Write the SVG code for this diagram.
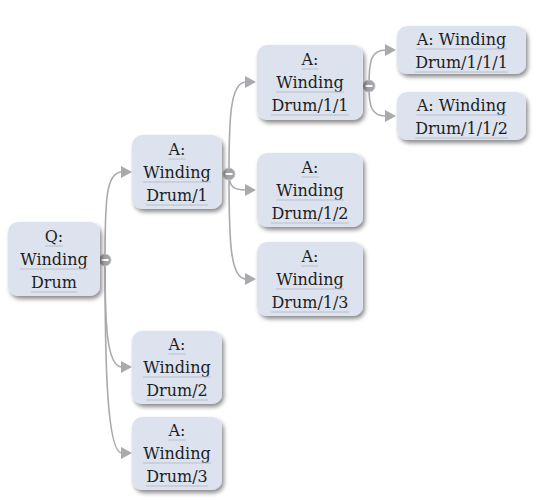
<svg xmlns="http://www.w3.org/2000/svg" width="551" height="500" viewBox="0 0 551 500">
<style>
.box{fill:#dde3ee;filter:url(#sh)}
.t{font-family:"DejaVu Serif","Liberation Serif",serif;font-size:16px;fill:#1e1e1e;text-anchor:middle}
.ul{stroke:#b7bfcc;stroke-width:1}
.c{fill:none;stroke:#a9a9ae;stroke-width:1.6}
.ah{fill:#a9a9ae}
.tg{fill:#a3a3a8;stroke:#c4c4c8;stroke-width:1}
.mn{stroke:#fff;stroke-width:2}
</style>
<defs>
<filter id="sh" x="-20%" y="-20%" width="150%" height="150%">
<feDropShadow dx="2" dy="3" stdDeviation="2" flood-color="#000" flood-opacity="0.45"/>
</filter>
</defs>
<rect width="551" height="500" fill="#fff"/>
<g id="connectors">
<path class="c" d="M105 260 C105 200 106 172 122 172"/>
<path class="c" d="M105 260 C105 320 106 367 122 367"/>
<path class="c" d="M105 260 C105 350 106 453 122 453"/>
<polygon class="ah" points="121,166 132,172 121,178"/>
<polygon class="ah" points="121,361 132,367 121,373"/>
<polygon class="ah" points="121,447 132,453 121,459"/>
<path class="c" d="M229 174 C229 120 230 82 246 82"/>
<path class="c" d="M229 174 C229 186 233 190 246 190"/>
<path class="c" d="M229 174 C229 240 230 279 246 279"/>
<polygon class="ah" points="245,76 256,82 245,88"/>
<polygon class="ah" points="245,184 256,190 245,196"/>
<polygon class="ah" points="245,273 256,279 245,285"/>
<path class="c" d="M369 86 C369 60 371 50 386 50"/>
<path class="c" d="M369 86 C369 106 371 116 386 116"/>
<polygon class="ah" points="385,44 396,50 385,56"/>
<polygon class="ah" points="385,110 396,116 385,122"/>
<circle class="tg" cx="105" cy="260" r="6"/><line class="mn" x1="101.5" y1="260" x2="108.5" y2="260"/>
<circle class="tg" cx="229" cy="174" r="6"/><line class="mn" x1="225.5" y1="174" x2="232.5" y2="174"/>
<circle class="tg" cx="369" cy="86" r="6"/><line class="mn" x1="365.5" y1="86" x2="372.5" y2="86"/>
</g>
<g id="q">
<rect class="box" x="8" y="222" width="92" height="74" rx="10"/>
<text class="t" x="54" y="242">Q:</text><line class="ul" x1="45" y1="246" x2="63" y2="246"/>
<text class="t" x="54" y="265">Winding</text><line class="ul" x1="20" y1="269" x2="88" y2="269"/>
<text class="t" x="54" y="288">Drum</text><line class="ul" x1="31" y1="292" x2="77" y2="292"/>
</g>
<g id="a1">
<rect class="box" x="132" y="135" width="90" height="74" rx="10"/>
<text class="t" x="177" y="155">A:</text><line class="ul" x1="168.5" y1="159" x2="185.5" y2="159"/>
<text class="t" x="177" y="178">Winding</text><line class="ul" x1="143" y1="182" x2="211" y2="182"/>
<text class="t" x="177" y="201">Drum/1</text><line class="ul" x1="146" y1="205" x2="208" y2="205"/>
</g>
<g id="a11">
<rect class="box" x="257" y="45" width="106" height="75" rx="10"/>
<text class="t" x="310" y="65">A:</text><line class="ul" x1="301.5" y1="69" x2="318.5" y2="69"/>
<text class="t" x="310" y="88">Winding</text><line class="ul" x1="276" y1="92" x2="344" y2="92"/>
<text class="t" x="310" y="111">Drum/1/1</text><line class="ul" x1="271" y1="115" x2="349" y2="115"/>
</g>
<g id="a111">
<rect class="box" x="397" y="26" width="129" height="48" rx="10"/>
<text class="t" x="461.5" y="45">A: Winding</text><line class="ul" x1="416.5" y1="49" x2="506.5" y2="49"/>
<text class="t" x="461.5" y="68">Drum/1/1/1</text><line class="ul" x1="415" y1="72" x2="508" y2="72"/>
</g>
<g id="a112">
<rect class="box" x="397" y="92" width="129" height="48" rx="10"/>
<text class="t" x="461.5" y="111">A: Winding</text><line class="ul" x1="416.5" y1="115" x2="506.5" y2="115"/>
<text class="t" x="461.5" y="134">Drum/1/1/2</text><line class="ul" x1="415" y1="138" x2="508" y2="138"/>
</g>
<g id="a12">
<rect class="box" x="257" y="153" width="106" height="74" rx="10"/>
<text class="t" x="310" y="173">A:</text><line class="ul" x1="301.5" y1="177" x2="318.5" y2="177"/>
<text class="t" x="310" y="196">Winding</text><line class="ul" x1="276" y1="200" x2="344" y2="200"/>
<text class="t" x="310" y="219">Drum/1/2</text><line class="ul" x1="271" y1="223" x2="349" y2="223"/>
</g>
<g id="a13">
<rect class="box" x="257" y="242" width="106" height="74" rx="10"/>
<text class="t" x="310" y="262">A:</text><line class="ul" x1="301.5" y1="266" x2="318.5" y2="266"/>
<text class="t" x="310" y="285">Winding</text><line class="ul" x1="276" y1="289" x2="344" y2="289"/>
<text class="t" x="310" y="308">Drum/1/3</text><line class="ul" x1="271" y1="312" x2="349" y2="312"/>
</g>
<g id="a2">
<rect class="box" x="132" y="331" width="90" height="73" rx="10"/>
<text class="t" x="177" y="350">A:</text><line class="ul" x1="168.5" y1="354" x2="185.5" y2="354"/>
<text class="t" x="177" y="373">Winding</text><line class="ul" x1="143" y1="377" x2="211" y2="377"/>
<text class="t" x="177" y="396">Drum/2</text><line class="ul" x1="146" y1="400" x2="208" y2="400"/>
</g>
<g id="a3">
<rect class="box" x="132" y="417" width="90" height="73" rx="10"/>
<text class="t" x="177" y="436">A:</text><line class="ul" x1="168.5" y1="440" x2="185.5" y2="440"/>
<text class="t" x="177" y="459">Winding</text><line class="ul" x1="143" y1="463" x2="211" y2="463"/>
<text class="t" x="177" y="482">Drum/3</text><line class="ul" x1="146" y1="486" x2="208" y2="486"/>
</g>
</svg>
